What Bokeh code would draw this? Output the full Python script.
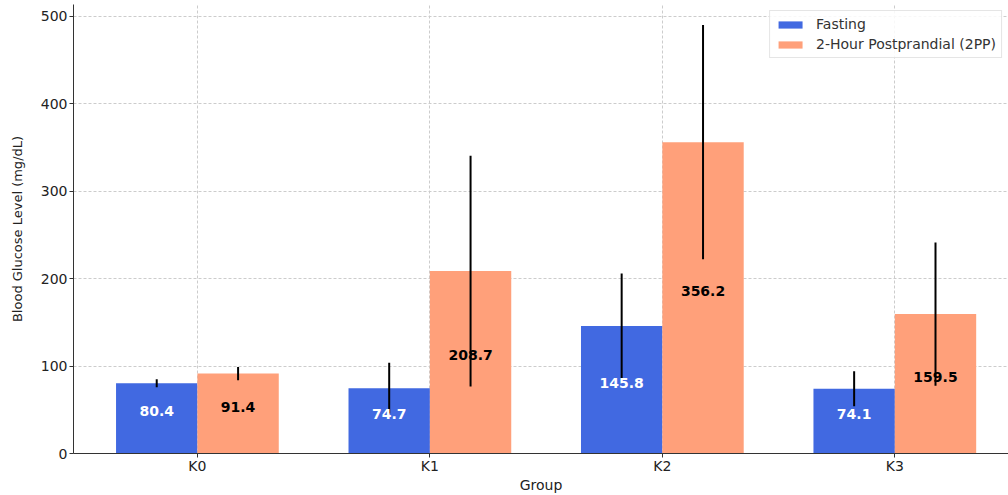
from bokeh.plotting import figure
from bokeh.models import Range1d, FixedTicker, ColumnDataSource, Legend, LegendItem
from bokeh.core.properties import value
from bokeh.embed import file_html
from bokeh.resources import INLINE

groups = ["K0", "K1", "K2", "K3"]
fasting = [80.4, 74.7, 145.8, 74.1]
fasting_sd = [4.5, 29.0, 60.0, 20.0]
pp = [91.4, 208.7, 356.2, 159.5]
pp_sd = [7.5, 132.0, 134.0, 82.0]
y_ticks = [0, 100, 200, 300, 400, 500]

FONT = "DejaVu Sans"
BLUE = "#4169E1"
SALMON = "#FFA07A"
W = 0.35

xs = list(range(len(groups)))
src_f = ColumnDataSource(dict(
    x=[i - W / 2 for i in xs], top=fasting,
    lo=[v - s for v, s in zip(fasting, fasting_sd)],
    hi=[v + s for v, s in zip(fasting, fasting_sd)],
    ly=[v / 2 for v in fasting], lab=[f"{v:.1f}" for v in fasting]))
src_p = ColumnDataSource(dict(
    x=[i + W / 2 for i in xs], top=pp,
    lo=[v - s for v, s in zip(pp, pp_sd)],
    hi=[v + s for v, s in zip(pp, pp_sd)],
    ly=[v / 2 for v in pp], lab=[f"{v:.1f}" for v in pp]))

p = figure(width=1008, height=495, output_backend="svg", toolbar_location=None,
           x_range=Range1d(-0.533, 3.489), y_range=Range1d(0, 513.7),
           min_border_left=73, min_border_right=0, min_border_top=4, min_border_bottom=42)
p.outline_line_color = None

rf = p.vbar(x="x", top="top", width=W, source=src_f, fill_color=BLUE, line_color=None)
rp = p.vbar(x="x", top="top", width=W, source=src_p, fill_color=SALMON, line_color=None)

p.segment(x0="x", y0="lo", x1="x", y1="hi", source=src_f, line_color="black", line_width=2)
p.segment(x0="x", y0="lo", x1="x", y1="hi", source=src_p, line_color="black", line_width=2)

p.text(x="x", y="ly", text="lab", source=src_f, text_color="white",
       text_font=value(FONT), text_font_style="bold", text_font_size="14px",
       text_align="center", text_baseline="middle", y_offset=-7)
p.text(x="x", y="ly", text="lab", source=src_p, text_color="black",
       text_font=value(FONT), text_font_style="bold", text_font_size="14px",
       text_align="center", text_baseline="middle", y_offset=-7)

# axes
p.xaxis.ticker = FixedTicker(ticks=xs)
p.xaxis.major_label_overrides = {i: g for i, g in enumerate(groups)}
p.yaxis.ticker = FixedTicker(ticks=y_ticks)
for ax in (p.xaxis[0], p.yaxis[0]):
    ax.major_label_text_font = FONT
    ax.major_label_text_font_size = "14px"
    ax.major_label_text_color = "#222222"
    ax.axis_label_text_font = FONT
    ax.axis_label_text_font_style = "normal"
    ax.axis_label_text_color = "#222222"
    ax.axis_line_color = "#333333"
    ax.axis_line_width = 1
    ax.major_tick_line_color = "#333333"
    ax.major_tick_out = 4
    ax.major_tick_in = 0
    ax.minor_tick_line_color = None
p.xaxis.axis_label = "Group"
p.xaxis.axis_label_text_font_size = "14px"
p.xaxis.axis_label_standoff = 0
p.xaxis.major_label_standoff = 0
p.yaxis.axis_label = "Blood Glucose Level (mg/dL)"
p.yaxis.axis_label_text_font_size = "13px"
p.yaxis.axis_label_standoff = 13
p.yaxis.major_label_standoff = 2

p.xgrid.grid_line_color = "#cccccc"
p.xgrid.grid_line_dash = "3 2"
p.ygrid.grid_line_color = "#cccccc"
p.ygrid.grid_line_dash = "3 2"

legend = Legend(items=[LegendItem(label="Fasting", renderers=[rf]),
                       LegendItem(label="2-Hour Postprandial (2PP)", renderers=[rp])],
                location="top_right")
legend.label_text_font = FONT
legend.label_text_font_size = "14px"
legend.label_text_color = "#333333"
legend.glyph_width = 30
legend.glyph_height = 9
legend.label_height = 15
legend.label_standoff = 11
legend.spacing = 4
legend.padding = 5
legend.margin = 6
legend.border_line_color = "#cccccc"
legend.background_fill_alpha = 0.85
p.add_layout(legend)

open("out.html", "w").write(file_html(p, INLINE))
